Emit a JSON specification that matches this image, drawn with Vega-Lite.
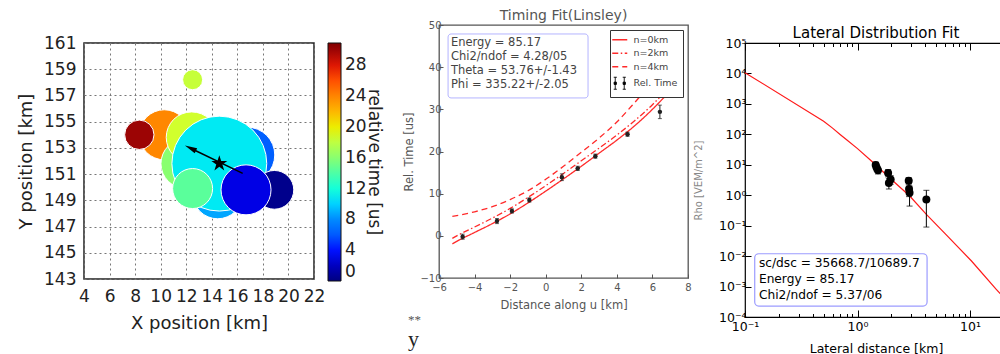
{
  "$schema": "https://vega.github.io/schema/vega-lite/v6.json",
  "padding": {"left": 16, "top": 0, "right": 0, "bottom": 0},
  "spacing": 0,
  "bounds": "full",
  "resolve": {"scale": {"color": "independent", "size": "independent", "strokeDash": "independent"}, "legend": {"color": "independent", "size": "independent", "strokeDash": "independent"}},
  "config": {
    "view": {"stroke": null},
    "font": "DejaVu Sans",
    "axis": {"domain": false, "grid": false, "labelFont": "DejaVu Sans", "titleFont": "DejaVu Sans", "titleFontWeight": "normal", "labelOverlap": false, "labelFlush": false, "tickCount": 50},
    "legend": {"labelFont": "DejaVu Sans", "titleFont": "DejaVu Sans", "titleFontWeight": "normal"},
    "title": {"font": "DejaVu Sans", "fontWeight": "normal"}
  },
  "hconcat": [
    {
      "spacing": 0,
      "resolve": {"scale": {"color": "independent", "size": "independent"}, "legend": {"color": "independent", "size": "independent"}},
      "vconcat": [
        {"width": 318, "height": 33, "data": {"values": [{"a": 0}]}, "mark": {"type": "point", "opacity": 0}},
        {
          "width": 230, "height": 236,
          "view": {"stroke": "#222", "strokeWidth": 1.5},
          "layer": [
            {
              "data": {"values": [
                {"x": 10.28, "y": 154.0, "t": 23.9, "s": 25},
                {"x": 11.98, "y": 151.8, "t": 16.0, "s": 25},
                {"x": 12.43, "y": 153.8, "t": 18.7, "s": 26},
                {"x": 16.75, "y": 152.46, "t": 6.2, "s": 31},
                {"x": 14.46, "y": 149.5, "t": 8.7, "s": 25},
                {"x": 12.5, "y": 158.2, "t": 18.3, "s": 4},
                {"x": 14.59, "y": 151.8, "t": 10.8, "s": 90},
                {"x": 18.9, "y": 149.8, "t": 0.4, "s": 15},
                {"x": 8.33, "y": 154.0, "t": 30.0, "s": 8.6},
                {"x": 12.5, "y": 149.9, "t": 14.4, "s": 16},
                {"x": 16.68, "y": 149.8, "t": 3.1, "s": 25}
              ]},
              "mark": {"type": "point", "filled": true, "opacity": 1, "stroke": "white", "strokeWidth": 1},
              "encoding": {
                "x": {"field": "x", "type": "quantitative", "scale": {"domain": [4, 22], "nice": false, "zero": false},
                  "axis": {"title": "X position [km]", "values": [4, 6, 8, 10, 12, 14, 16, 18, 20, 22], "tickCount": 50, "format": "d", "labelOverlap": false, "grid": true, "gridDash": [2, 3], "gridColor": "#777", "ticks": false, "labelFontSize": 17, "labelColor": "#222", "labelPadding": 9, "minExtent": 26, "maxExtent": 26, "titleFontSize": 18, "titleColor": "#222", "titlePadding": 9}},
                "y": {"field": "y", "type": "quantitative", "scale": {"domain": [143, 161], "nice": false, "zero": false},
                  "axis": {"title": "Y position [km]", "values": [143, 145, 147, 149, 151, 153, 155, 157, 159, 161], "tickCount": 50, "format": "d", "labelOverlap": false, "grid": true, "gridDash": [2, 3], "gridColor": "#777", "ticks": false, "labelFontSize": 17, "labelColor": "#222", "labelPadding": 8, "minExtent": 38, "maxExtent": 38, "titleFontSize": 18, "titleColor": "#222", "titlePadding": 11}},
                "size": {"field": "s", "type": "quantitative", "scale": {"type": "linear", "domain": [0, 100], "range": [0, 10000]}, "legend": null},
                "color": {"field": "t", "type": "quantitative",
                  "scale": {"domain": [0, 3.8625, 7.725, 11.5875, 15.45, 19.3125, 23.175, 27.0375, 30.9], "range": ["#000080", "#0000ff", "#0080ff", "#15ffe2", "#7bff7b", "#e2ff15", "#ff9700", "#ff2100", "#800000"]},
                  "legend": {"orient": "right", "offset": 14, "direction": "vertical", "gradientLength": 238, "gradientThickness": 13, "gradientStrokeColor": "#111", "gradientStrokeWidth": 1, "values": [0, 4, 8, 12, 16, 20, 24, 28], "labelFontSize": 17, "labelColor": "#222", "labelOffset": 4, "labelOverlap": false, "title": "relative time [us]", "titleFontSize": 17, "titleColor": "#222", "titleOrient": "right", "titleAnchor": "middle", "titlePadding": -2, "padding": 0}}
              }
            },
            {
              "data": {"values": [{"x": 16.42, "y": 151.06}, {"x": 12.3, "y": 152.99}]},
              "mark": {"type": "line", "color": "black", "strokeWidth": 1.5},
              "encoding": {"x": {"field": "x", "type": "quantitative"}, "y": {"field": "y", "type": "quantitative"}}
            },
            {
              "data": {"values": [{"x": 12.33, "y": 152.98}]},
              "mark": {"type": "point", "shape": "M0,-1L0.45,1L-0.45,1Z", "filled": true, "color": "black", "opacity": 1, "size": 150, "angle": 296},
              "encoding": {"x": {"field": "x", "type": "quantitative"}, "y": {"field": "y", "type": "quantitative"}}
            },
            {
              "data": {"values": [{"x": 14.59, "y": 151.8}]},
              "mark": {"type": "point", "shape": "M0,-1L0.2245,-0.309L0.951,-0.309L0.363,0.118L0.588,0.809L0,0.382L-0.588,0.809L-0.363,0.118L-0.951,-0.309L-0.2245,-0.309Z", "filled": true, "color": "black", "opacity": 1, "size": 280},
              "encoding": {"x": {"field": "x", "type": "quantitative"}, "y": {"field": "y", "type": "quantitative"}}
            }
          ]
        }
      ]
    },
    {
      "spacing": 0,
      "resolve": {"scale": {"color": "independent", "strokeDash": "independent"}, "legend": {"color": "independent", "strokeDash": "independent"}},
      "vconcat": [
        {"width": 252, "height": 8, "data": {"values": [{"a": 0}]}, "mark": {"type": "point", "opacity": 0}},
        {
          "width": 249, "height": 253,
          "title": {"text": "Timing Fit(Linsley)", "fontSize": 14, "color": "#555", "offset": -3, "frame": "group"},
          "view": {"stroke": "#555", "strokeWidth": 1.3},
          "layer": [
            {
              "data": {"values": [
                {"x": -5.25, "y": -1.9, "c": "n=0km"}, {"x": -5, "y": -1.3, "c": "n=0km"}, {"x": -4, "y": 0.8, "c": "n=0km"}, {"x": -3, "y": 2.9, "c": "n=0km"}, {"x": -2, "y": 5.2, "c": "n=0km"}, {"x": -1, "y": 7.8, "c": "n=0km"}, {"x": 0, "y": 10.6, "c": "n=0km"}, {"x": 1, "y": 13.5, "c": "n=0km"}, {"x": 2, "y": 16.5, "c": "n=0km"}, {"x": 3, "y": 19.6, "c": "n=0km"}, {"x": 4, "y": 22.7, "c": "n=0km"}, {"x": 5, "y": 26.1, "c": "n=0km"}, {"x": 6, "y": 30.0, "c": "n=0km"}, {"x": 7, "y": 34.4, "c": "n=0km"},
                {"x": -5.25, "y": -0.6, "c": "n=2km"}, {"x": -5, "y": 0.0, "c": "n=2km"}, {"x": -4, "y": 2.1, "c": "n=2km"}, {"x": -3, "y": 4.2, "c": "n=2km"}, {"x": -2, "y": 6.5, "c": "n=2km"}, {"x": -1, "y": 9.1, "c": "n=2km"}, {"x": 0, "y": 11.9, "c": "n=2km"}, {"x": 1, "y": 14.8, "c": "n=2km"}, {"x": 2, "y": 17.8, "c": "n=2km"}, {"x": 3, "y": 20.8, "c": "n=2km"}, {"x": 4, "y": 23.9, "c": "n=2km"}, {"x": 5, "y": 27.3, "c": "n=2km"}, {"x": 6, "y": 31.1, "c": "n=2km"}, {"x": 7, "y": 35.5, "c": "n=2km"},
                {"x": -5.25, "y": 4.6, "c": "n=4km"}, {"x": -5, "y": 4.8, "c": "n=4km"}, {"x": -4, "y": 5.7, "c": "n=4km"}, {"x": -3, "y": 6.9, "c": "n=4km"}, {"x": -2, "y": 8.6, "c": "n=4km"}, {"x": -1, "y": 10.7, "c": "n=4km"}, {"x": 0, "y": 13.4, "c": "n=4km"}, {"x": 1, "y": 16.5, "c": "n=4km"}, {"x": 2, "y": 19.8, "c": "n=4km"}, {"x": 3, "y": 23.2, "c": "n=4km"}, {"x": 4, "y": 27.0, "c": "n=4km"}, {"x": 5, "y": 31.6, "c": "n=4km"}, {"x": 6, "y": 36.5, "c": "n=4km"}, {"x": 7, "y": 41.8, "c": "n=4km"}
              ]},
              "mark": {"type": "line", "strokeWidth": 1.3, "interpolate": "monotone"},
              "encoding": {
                "x": {"field": "x", "type": "quantitative", "scale": {"domain": [-6, 8], "nice": false, "zero": false},
                  "axis": {"title": "Distance along u [km]", "values": [-6, -4, -2, 0, 2, 4, 6, 8], "format": "d", "tickCount": 50, "labelOverlap": false, "tickSize": -4, "tickColor": "#555", "labelFontSize": 10, "labelColor": "#555", "labelPadding": 8, "minExtent": 15, "maxExtent": 15, "titleFontSize": 11.5, "titleColor": "#555", "titlePadding": 6}},
                "y": {"field": "y", "type": "quantitative", "scale": {"domain": [-10, 50], "nice": false, "zero": false},
                  "axis": {"title": "Rel. Time [us]", "values": [-10, 0, 10, 20, 30, 40, 50], "format": "d", "tickCount": 50, "labelOverlap": false, "tickSize": -4, "tickColor": "#555", "labelFontSize": 10, "labelColor": "#555", "labelPadding": 2, "minExtent": 18, "maxExtent": 18, "titleFontSize": 11.5, "titleColor": "#555", "titlePadding": 7}},
                "color": {"field": "c", "type": "nominal",
                  "scale": {"domain": ["n=0km", "n=2km", "n=4km", "Rel. Time"], "range": ["#ff2a2a", "#ff2a2a", "#ff2a2a", "#000000"]},
                  "legend": {"orient": "top-right", "offset": 5, "title": null, "padding": 5, "strokeColor": "#333", "fillColor": "white", "labelFontSize": 9.5, "labelColor": "#444", "symbolType": "stroke", "symbolSize": 225, "symbolStrokeWidth": 1.5, "rowPadding": 2.5, "labelOffset": 9,
                    "encode": {"symbols": {"update": {"shape": {"signal": "datum.value === 'Rel. Time' ? 'M-0.6,-0.8V0.8M-0.8,-0.8H-0.4M-0.8,0.8H-0.4M0.6,-0.8V0.8M0.4,-0.8H0.8M0.4,0.8H0.8M-0.75,-0.15H-0.45V0.15H-0.75ZM0.45,-0.15H0.75V0.15H0.45Z' : 'stroke'"}, "fill": {"signal": "datum.value === 'Rel. Time' ? '#000' : 'transparent'"}, "strokeWidth": {"signal": "datum.value === 'Rel. Time' ? 1 : 1.5"}}}}}},
                "strokeDash": {"field": "c", "type": "nominal",
                  "scale": {"domain": ["n=0km", "n=2km", "n=4km", "Rel. Time"], "range": [[1, 0], [6, 2.5, 1.5, 2.5], [6, 4], [1, 0]]},
                  "legend": {"orient": "top-right", "offset": 5, "title": null, "padding": 5, "strokeColor": "#333", "fillColor": "white", "labelFontSize": 9.5, "labelColor": "#444", "symbolType": "stroke", "symbolSize": 225, "symbolStrokeWidth": 1.5, "rowPadding": 2.5, "labelOffset": 9}}
              }
            },
            {
              "data": {"values": [
                {"x": -4.67, "y": -0.2, "lo": -0.8, "hi": 0.4}, {"x": -2.74, "y": 3.5, "lo": 2.9, "hi": 4.1}, {"x": -1.9, "y": 5.9, "lo": 5.4, "hi": 6.4}, {"x": -0.92, "y": 8.5, "lo": 8.0, "hi": 9.0}, {"x": 0.91, "y": 13.9, "lo": 13.1, "hi": 14.7}, {"x": 1.8, "y": 16.0, "lo": 15.5, "hi": 16.5}, {"x": 2.79, "y": 18.9, "lo": 18.4, "hi": 19.4}, {"x": 4.6, "y": 24.1, "lo": 23.6, "hi": 24.6}, {"x": 6.42, "y": 29.4, "lo": 27.8, "hi": 31.0}
              ]},
              "layer": [
                {"mark": {"type": "rule", "color": "#222", "strokeWidth": 1}, "encoding": {"x": {"field": "x", "type": "quantitative"}, "y": {"field": "lo", "type": "quantitative"}, "y2": {"field": "hi"}}},
                {"mark": {"type": "tick", "orient": "horizontal", "size": 4, "thickness": 1, "color": "#222"}, "encoding": {"x": {"field": "x", "type": "quantitative"}, "y": {"field": "lo", "type": "quantitative"}}},
                {"mark": {"type": "tick", "orient": "horizontal", "size": 4, "thickness": 1, "color": "#222"}, "encoding": {"x": {"field": "x", "type": "quantitative"}, "y": {"field": "hi", "type": "quantitative"}}},
                {"mark": {"type": "point", "filled": true, "opacity": 1, "color": "#222", "size": 20}, "encoding": {"x": {"field": "x", "type": "quantitative"}, "y": {"field": "y", "type": "quantitative"}}}
              ]
            },
            {
              "data": {"values": [{}]},
              "mark": {"type": "rect", "fill": "white", "stroke": "#b4b4ff", "strokeWidth": 1, "cornerRadius": 3},
              "encoding": {"x": {"datum": -5.49}, "x2": {"datum": 2.38}, "y": {"datum": 47.87}, "y2": {"datum": 32.7}}
            },
            {
              "data": {"values": [{}]},
              "mark": {"type": "text", "align": "left", "baseline": "top", "fontSize": 11.5, "lineHeight": 14, "color": "#444", "text": ["Energy =  85.17", "Chi2/ndof =  4.28/05", "Theta =  53.76+/-1.43", "Phi = 335.22+/-2.05"]},
              "encoding": {"x": {"datum": -5.33}, "y": {"datum": 47.1}}
            },
            {
              "data": {"values": [{}]},
              "mark": {"type": "text", "align": "left", "baseline": "alphabetic", "font": "Liberation Serif", "fontSize": 22, "color": "#222", "text": "y"},
              "encoding": {"x": {"datum": -7.74}, "y": {"datum": -26.1}}
            },
            {
              "data": {"values": [{}]},
              "mark": {"type": "text", "align": "left", "baseline": "top", "font": "Liberation Serif", "fontSize": 13, "color": "#555", "text": "**"},
              "encoding": {"x": {"datum": -7.74}, "y": {"datum": -18.5}}
            }
          ]
        }
      ]
    },
    {
      "spacing": 0,
      "vconcat": [
        {"width": 1, "height": 23.5, "data": {"values": [{"a": 0}]}, "mark": {"type": "point", "opacity": 0}},
        {
          "width": 262, "height": 274,
          "title": {"text": "Lateral Distribution Fit", "fontSize": 15, "color": "#000", "offset": -3.5, "frame": "group"},
          "view": {"stroke": "#000", "strokeWidth": 1.2},
          "resolve": {"axis": {"x": "independent"}},
          "layer": [
            {
              "data": {"values": [
                {"x": 0.1, "y": 10600}, {"x": 0.5, "y": 270}, {"x": 0.6, "y": 160}, {"x": 0.7, "y": 99}, {"x": 0.8, "y": 66}, {"x": 1.0, "y": 34}, {"x": 1.33, "y": 13.3}, {"x": 2.0, "y": 3.3}, {"x": 2.91, "y": 0.94}, {"x": 4.09, "y": 0.235}, {"x": 6.0, "y": 0.055}, {"x": 10.3, "y": 0.0069}, {"x": 17.1, "y": 0.00081}, {"x": 21.3, "y": 0.00033}
              ]},
              "mark": {"type": "line", "color": "#ff1a1a", "strokeWidth": 1.2},
              "encoding": {
                "x": {"field": "x", "type": "quantitative", "scale": {"type": "log", "domain": [0.1, 21.3], "nice": false},
                  "axis": {"orient": "bottom", "title": "Lateral distance [km]", "values": [0.1, 0.2, 0.3, 0.4, 0.5, 0.6, 0.7, 0.8, 0.9, 1, 2, 3, 4, 5, 6, 7, 8, 9, 10, 20], "tickCount": 50, "labelOverlap": false,
                    "labelExpr": "abs(log(datum.value)/LN10 - round(log(datum.value)/LN10)) < 0.001 ? '10' + replace(replace(replace(replace(replace(replace(replace(toString(round(log(datum.value)/LN10)), '-', '⁻'), '0', '⁰'), '1', '¹'), '2', '²'), '3', '³'), '4', '⁴'), '5', '⁵') : ''",
                    "tickSize": {"condition": {"test": "abs(log(datum.value)/LN10 - round(log(datum.value)/LN10)) < 0.001", "value": -7}, "value": -3.5},
                    "tickColor": "#000", "labelFontSize": 12.5, "labelColor": "#000", "labelPadding": 10, "minExtent": 17, "maxExtent": 17, "titleFontSize": 12.5, "titleColor": "#000", "titlePadding": 8}},
                "y": {"field": "y", "type": "quantitative", "scale": {"type": "log", "domain": [0.0001, 100000], "nice": false},
                  "axis": {"title": "Rho [VEM/m^2]", "values": [0.0001, 0.001, 0.01, 0.1, 1, 10, 100, 1000, 10000, 100000], "tickCount": 50, "labelOverlap": false,
                    "labelExpr": "'10' + replace(replace(replace(replace(replace(replace(replace(toString(round(log(datum.value)/LN10)), '-', '⁻'), '0', '⁰'), '1', '¹'), '2', '²'), '3', '³'), '4', '⁴'), '5', '⁵')",
                    "tickSize": -6, "tickColor": "#000", "labelFontSize": 12.5, "labelColor": "#000", "labelPadding": 5, "minExtent": 30, "maxExtent": 30, "titleFontSize": 10, "titleColor": "#888", "titlePadding": 12}}
              }
            },
            {
              "data": {"values": [{"x": 1, "y": 1}]},
              "mark": {"type": "point", "opacity": 0},
              "encoding": {
                "x": {"field": "x", "type": "quantitative",
                  "axis": {"orient": "top", "title": null, "labels": false, "values": [0.1, 0.2, 0.3, 0.4, 0.5, 0.6, 0.7, 0.8, 0.9, 1, 2, 3, 4, 5, 6, 7, 8, 9, 10, 20], "tickCount": 50,
                    "tickSize": {"condition": {"test": "abs(log(datum.value)/LN10 - round(log(datum.value)/LN10)) < 0.001", "value": -7}, "value": -3.5},
                    "tickColor": "#000"}},
                "y": {"field": "y", "type": "quantitative"}
              }
            },
            {
              "data": {"values": [
                {"x": 1.45, "y": 9.8, "lo": 7.6, "hi": 12.2}, {"x": 1.48, "y": 8.0, "lo": 6.2, "hi": 10.0}, {"x": 1.52, "y": 6.6, "lo": 5.0, "hi": 8.4},
                {"x": 1.87, "y": 5.4, "lo": 4.0, "hi": 7.0}, {"x": 1.9, "y": 2.5, "lo": 1.6, "hi": 3.5}, {"x": 1.97, "y": 3.3, "lo": 2.3, "hi": 4.4},
                {"x": 2.85, "y": 3.0, "lo": 2.2, "hi": 3.8}, {"x": 2.87, "y": 1.6, "lo": 0.9, "hi": 2.5}, {"x": 2.9, "y": 1.2, "lo": 0.44, "hi": 2.0},
                {"x": 4.09, "y": 0.72, "lo": 0.09, "hi": 1.45}
              ]},
              "layer": [
                {"mark": {"type": "rule", "color": "#000", "strokeWidth": 1}, "encoding": {"x": {"field": "x", "type": "quantitative", "axis": null}, "y": {"field": "lo", "type": "quantitative"}, "y2": {"field": "hi"}}},
                {"mark": {"type": "tick", "orient": "horizontal", "size": 6, "thickness": 1, "color": "#000"}, "encoding": {"x": {"field": "x", "type": "quantitative", "axis": null}, "y": {"field": "lo", "type": "quantitative"}}},
                {"mark": {"type": "tick", "orient": "horizontal", "size": 6, "thickness": 1, "color": "#000"}, "encoding": {"x": {"field": "x", "type": "quantitative", "axis": null}, "y": {"field": "hi", "type": "quantitative"}}},
                {"mark": {"type": "point", "filled": true, "opacity": 1, "color": "#000", "size": 64}, "encoding": {"x": {"field": "x", "type": "quantitative", "axis": null}, "y": {"field": "y", "type": "quantitative"}}}
              ]
            },
            {
              "data": {"values": [{}]},
              "mark": {"type": "rect", "fill": "white", "stroke": "#9c9cff", "strokeWidth": 1.2, "cornerRadius": 4},
              "encoding": {"x": {"datum": 0.122, "axis": null}, "x2": {"datum": 4.15}, "y": {"datum": 0.01197}, "y2": {"datum": 0.000229}}
            },
            {
              "data": {"values": [{}]},
              "mark": {"type": "text", "align": "left", "baseline": "top", "fontSize": 12.2, "lineHeight": 16, "color": "#000", "text": ["sc/dsc  = 35668.7/10689.7", "Energy =  85.17", "Chi2/ndof =  5.37/06"]},
              "encoding": {"x": {"datum": 0.133, "axis": null}, "y": {"datum": 0.0093}}
            }
          ]
        }
      ]
    }
  ]
}
